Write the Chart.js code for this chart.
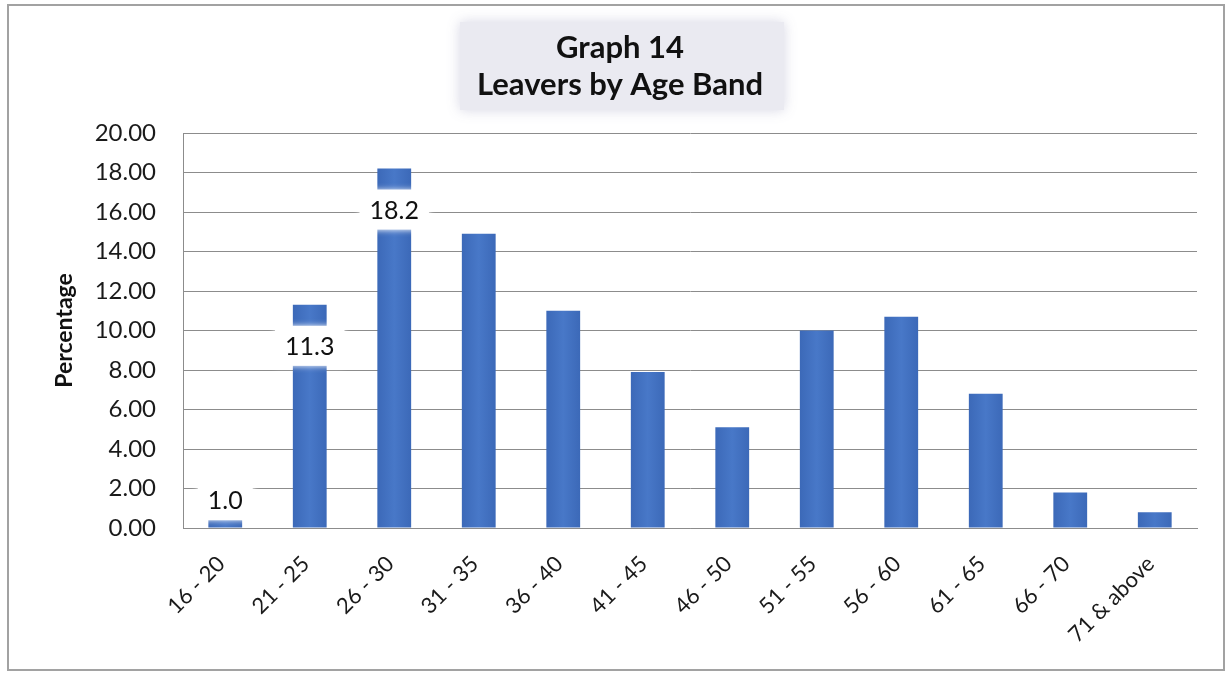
<!DOCTYPE html>
<html>
<head>
<meta charset="utf-8">
<title>Leavers by Age Band</title>
<script src="https://cdn.jsdelivr.net/npm/chart.js@4.4.1/dist/chart.umd.min.js"></script>
<style>
  html, body { margin: 0; padding: 0; background: #ffffff; }
  #frame {
    position: absolute; left: 7px; top: 4px; width: 1218px; height: 667px;
    border: 2px solid #a2a2a2; box-sizing: border-box;
  }
  #wrap { position: absolute; left: 0; top: 0; width: 1228px; height: 673px; }
</style>
</head>
<body>
<div id="frame"></div>
<div id="wrap"><canvas id="chart" width="1228" height="673"></canvas></div>
<script>
// Age bands and share of leavers (%)
const ageBands = ['16 - 20', '21 - 25', '26 - 30', '31 - 35', '36 - 40', '41 - 45',
                  '46 - 50', '51 - 55', '56 - 60', '61 - 65', '66 - 70', '71 & above'];
const leaversPct = [1.0, 11.3, 18.2, 14.9, 11.0, 7.9, 5.1, 10.0, 10.7, 6.8, 1.8, 0.8];
// Bars that carry a value label
const labelledBars = [0, 1, 2];
const titleLines = ['Graph 14', 'Leavers by Age Band'];
const axisTitle = 'Percentage';

const FONT = 'Lato, "Open Sans", sans-serif';

// Bars get a soft horizontal shading, lighter in the middle
function barFill(context) {
  const chart = context.chart;
  const xScale = chart.scales.x;
  if (!chart.chartArea || !xScale) return '#4271bf';
  const x = xScale.getPixelForValue(context.dataIndex);
  const half = 18;
  const g = chart.ctx.createLinearGradient(x - half, 0, x + half, 0);
  g.addColorStop(0, '#3b68b7');
  g.addColorStop(0.5, '#4878c8');
  g.addColorStop(1, '#3b68b7');
  return g;
}

// Shaded title panel with the two-line heading
const titlePanel = {
  id: 'titlePanel',
  beforeDraw(chart) {
    const ctx = chart.ctx;
    ctx.save();
    ctx.shadowColor = 'rgba(210,210,225,0.9)';
    ctx.shadowBlur = 12;
    ctx.fillStyle = '#eaeaf1';
    ctx.fillRect(460, 22, 324, 88);
    ctx.restore();
  },
  afterDraw(chart) {
    const ctx = chart.ctx;
    ctx.save();
    ctx.fillStyle = '#111111';
    ctx.font = 'bold 31px ' + FONT;
    ctx.textAlign = 'center';
    ctx.textBaseline = 'middle';
    ctx.fillText(titleLines[0], 620, 48);
    ctx.fillText(titleLines[1], 620, 85);
    ctx.restore();
  }
};

// White boxed value labels placed over the selected bars
const valueLabels = {
  id: 'valueLabels',
  afterDatasetsDraw(chart, args, opts) {
    const ctx = chart.ctx;
    const meta = chart.getDatasetMeta(0);
    ctx.save();
    ctx.font = opts.font;
    ctx.textAlign = 'center';
    ctx.textBaseline = 'middle';
    labelledBars.forEach((idx, k) => {
      const bar = meta.data[idx];
      const text = leaversPct[idx].toFixed(1);
      const cx = bar.x;
      const cy = bar.y + opts.offsets[k];
      const w = ctx.measureText(text).width + 20;
      const h = opts.boxHeight;
      ctx.save();
      ctx.shadowColor = 'rgba(255,255,255,1)';
      ctx.shadowBlur = 6;
      ctx.fillStyle = '#ffffff';
      ctx.fillRect(cx - w / 2, cy - h / 2, w, h);
      ctx.restore();
      ctx.fillStyle = '#111111';
      ctx.fillText(text, cx, cy + 1);
    });
    ctx.restore();
  }
};

new Chart(document.getElementById('chart'), {
  type: 'bar',
  data: {
    labels: ageBands,
    datasets: [{
      data: leaversPct,
      backgroundColor: barFill,
      borderWidth: 0,
      categoryPercentage: 1.0,
      barPercentage: 0.40
    }]
  },
  options: {
    responsive: false,
    animation: false,
    layout: { padding: { top: 133, right: 31, bottom: 0, left: 0 } },
    plugins: {
      legend: { display: false },
      title: { display: false },
      tooltip: { enabled: false },
      valueLabels: { font: '25px ' + FONT, offsets: [-8, 41, 41], boxHeight: 40 }
    },
    scales: {
      x: {
        grid: { display: false },
        border: { display: true, color: '#8c8c8c', width: 1 },
        ticks: {
          color: '#1a1a1a',
          font: { family: FONT, size: 22 },
          maxRotation: 45, minRotation: 45,
          padding: 15,
          labelOffset: -4
        },
        afterFit(scale) { scale.height = 145; }
      },
      y: {
        min: 0, max: 20,
        ticks: {
          stepSize: 2,
          color: '#1a1a1a',
          font: { family: FONT, size: 24 },
          padding: 27,
          callback: v => Number(v).toFixed(2)
        },
        grid: { color: '#8c8c8c', lineWidth: 1, drawTicks: false },
        border: { display: true, color: '#8c8c8c', width: 1 },
        title: {
          display: true,
          text: axisTitle,
          color: '#111111',
          font: { family: FONT, size: 23, weight: 'bold' },
          padding: { top: 51, bottom: 0 }
        },
        afterFit(scale) { scale.width = 183; }
      }
    }
  },
  plugins: [titlePanel, valueLabels]
});
</script>
</body>
</html>
